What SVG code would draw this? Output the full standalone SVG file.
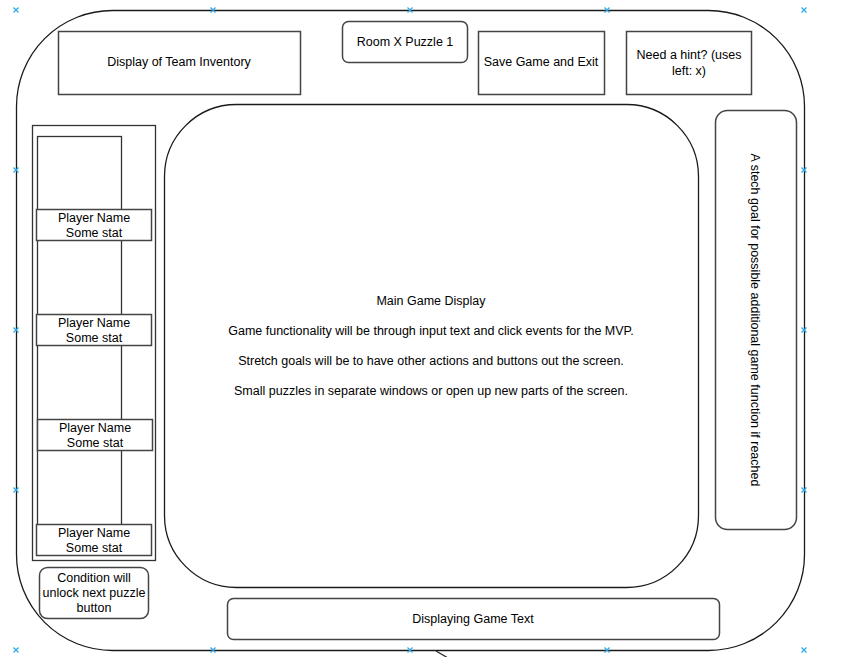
<svg xmlns="http://www.w3.org/2000/svg" width="852" height="657" viewBox="0 0 852 657">
<style>
.big{fill:#fff;stroke:#1a1a1a;stroke-width:1.3}
.box{fill:#fff;stroke:#444;stroke-width:1.5}
.in{fill:none;stroke:#333;stroke-width:1.3}
text{font-family:"Liberation Sans",Arial,sans-serif;font-size:12.5px;fill:#000;text-anchor:middle}
.mk{stroke:#2aa8e8;stroke-width:1.2;fill:none}
</style>
<defs>
<path id="x" class="mk" d="M-2.5,-2.5L2.5,2.5M-2.5,2.5L2.5,-2.5"/>
</defs>
<g id="frame">
<rect class="big" x="16.5" y="10.5" width="788" height="640" rx="96" ry="96"/>
</g>
<g id="connectors">
<line x1="436" y1="651" x2="448" y2="658" stroke="#222" stroke-width="1.2"/>
</g>
<g id="inventory">
<rect class="box" x="58.5" y="31.5" width="242" height="63"/>
<text x="179" y="66">Display of Team Inventory</text>
</g>
<g id="room">
<rect class="box" x="342.5" y="21.5" width="125" height="41" rx="6"/>
<text x="405" y="46">Room X Puzzle 1</text>
</g>
<g id="save">
<rect class="box" x="478.5" y="31.5" width="126" height="63"/>
<text x="541" y="66">Save Game and Exit</text>
</g>
<g id="hint">
<rect class="box" x="626.5" y="31.5" width="125" height="63"/>
<text x="689" y="59">Need a hint? (uses</text>
<text x="689" y="75">left: x)</text>
</g>
<g id="main">
<rect class="big" x="164.5" y="104.5" width="534" height="483" rx="72" ry="72"/>
<text x="431" y="305">Main Game Display</text>
<text x="431" y="335">Game functionality will be through input text and click events for the MVP.</text>
<text x="431" y="365">Stretch goals will be to have other actions and buttons out the screen.</text>
<text x="431" y="395">Small puzzles in separate windows or open up new parts of the screen.</text>
</g>
<g id="stretch">
<rect class="box" x="715.5" y="110.5" width="81" height="419" rx="12"/>
<text transform="translate(751,320) rotate(90)" x="0" y="0">A stech goal for possible additional game function if reached</text>
</g>
<g id="players">
<rect class="in" x="32.5" y="125.5" width="123" height="435"/>
<rect class="in" x="37.5" y="136.5" width="84" height="405"/>
</g>
<g id="player1">
<rect class="box" x="36.5" y="209.5" width="115" height="31"/>
<text x="94" y="222">Player Name</text>
<text x="94" y="237">Some stat</text>
</g>
<g id="player2">
<rect class="box" x="36.5" y="314.5" width="115" height="31"/>
<text x="94" y="327">Player Name</text>
<text x="94" y="342">Some stat</text>
</g>
<g id="player3">
<rect class="box" x="37.5" y="419.5" width="115" height="31"/>
<text x="95" y="432">Player Name</text>
<text x="95" y="447">Some stat</text>
</g>
<g id="player4">
<rect class="box" x="36.5" y="524.5" width="115" height="31"/>
<text x="94" y="537">Player Name</text>
<text x="94" y="552">Some stat</text>
</g>
<g id="condition">
<rect class="box" x="39.5" y="567.5" width="109" height="51" rx="8"/>
<text x="94" y="582">Condition will</text>
<text x="94" y="597">unlock next puzzle</text>
<text x="94" y="612">button</text>
</g>
<g id="gametext">
<rect class="box" x="227.5" y="598.5" width="492" height="41" rx="6"/>
<text x="473" y="623">Displaying Game Text</text>
</g>
<g id="markers">
<use href="#x" x="16" y="10"/><use href="#x" x="213" y="10"/><use href="#x" x="410" y="10"/><use href="#x" x="607" y="10"/><use href="#x" x="804" y="10"/>
<use href="#x" x="16" y="170"/><use href="#x" x="16" y="330"/><use href="#x" x="16" y="490"/><use href="#x" x="16" y="650"/>
<use href="#x" x="804" y="170"/><use href="#x" x="804" y="330"/><use href="#x" x="804" y="490"/><use href="#x" x="804" y="650"/>
<use href="#x" x="213" y="650"/><use href="#x" x="410" y="650"/><use href="#x" x="607" y="650"/>
</g>
</svg>
